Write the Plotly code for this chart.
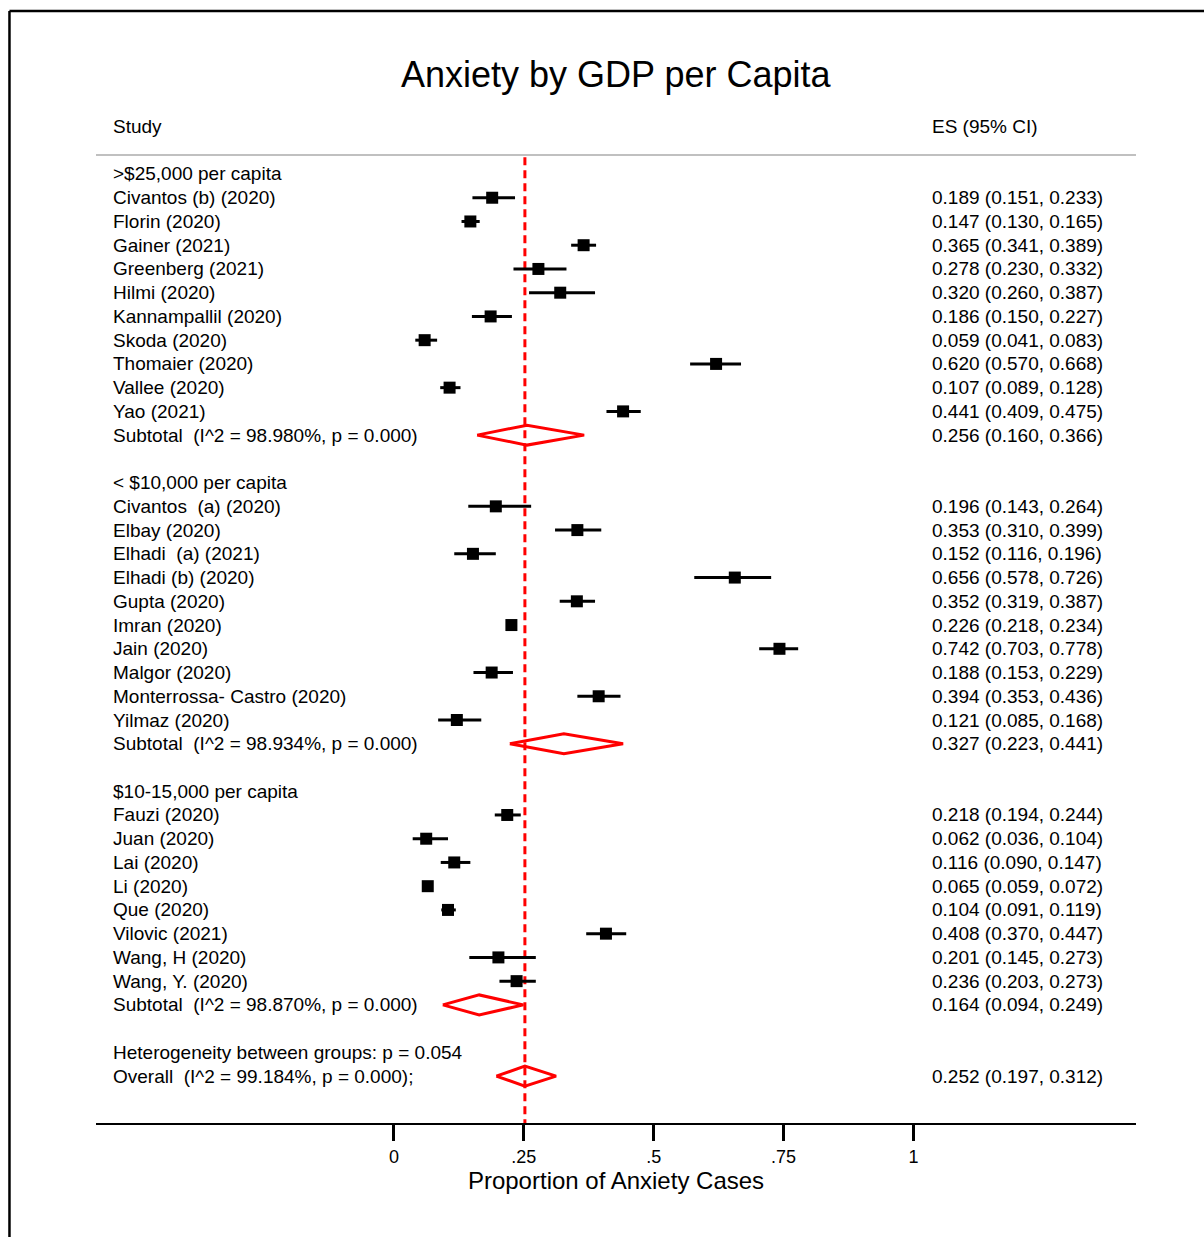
import plotly.graph_objects as go

# ---- data -----------------------------------------------------------------
group_names = [">$25,000 per capita", "<\u00a0$10,000 per capita", "$10-15,000 per capita"]

g1_studies = ["Civantos (b) (2020)", "Florin (2020)", "Gainer (2021)", "Greenberg (2021)",
              "Hilmi (2020)", "Kannampallil (2020)", "Skoda (2020)", "Thomaier (2020)",
              "Vallee (2020)", "Yao (2021)"]
g1_es = [0.189, 0.147, 0.365, 0.278, 0.320, 0.186, 0.059, 0.620, 0.107, 0.441]
g1_lo = [0.151, 0.130, 0.341, 0.230, 0.260, 0.150, 0.041, 0.570, 0.089, 0.409]
g1_hi = [0.233, 0.165, 0.389, 0.332, 0.387, 0.227, 0.083, 0.668, 0.128, 0.475]

g2_studies = ["Civantos\u00a0 (a) (2020)", "Elbay (2020)", "Elhadi\u00a0 (a) (2021)", "Elhadi (b) (2020)",
              "Gupta (2020)", "Imran (2020)", "Jain (2020)", "Malgor (2020)",
              "Monterrossa- Castro (2020)", "Yilmaz (2020)"]
g2_es = [0.196, 0.353, 0.152, 0.656, 0.352, 0.226, 0.742, 0.188, 0.394, 0.121]
g2_lo = [0.143, 0.310, 0.116, 0.578, 0.319, 0.218, 0.703, 0.153, 0.353, 0.085]
g2_hi = [0.264, 0.399, 0.196, 0.726, 0.387, 0.234, 0.778, 0.229, 0.436, 0.168]

g3_studies = ["Fauzi (2020)", "Juan (2020)", "Lai (2020)", "Li (2020)", "Que (2020)",
              "Vilovic (2021)", "Wang, H (2020)", "Wang, Y. (2020)"]
g3_es = [0.218, 0.062, 0.116, 0.065, 0.104, 0.408, 0.201, 0.236]
g3_lo = [0.194, 0.036, 0.090, 0.059, 0.091, 0.370, 0.145, 0.203]
g3_hi = [0.244, 0.104, 0.147, 0.072, 0.119, 0.447, 0.273, 0.273]

subtotal_i2 = ["98.980%", "98.934%", "98.870%"]
subtotal_es = [0.256, 0.327, 0.164]
subtotal_lo = [0.160, 0.223, 0.094]
subtotal_hi = [0.366, 0.441, 0.249]

overall_i2 = "99.184%"
overall_es, overall_lo, overall_hi = 0.252, 0.197, 0.312
between_p = "0.054"

tick_vals = [0, 0.25, 0.5, 0.75, 1]
tick_text = ["0", ".25", ".5", ".75", "1"]

groups = [
    (g1_studies, g1_es, g1_lo, g1_hi),
    (g2_studies, g2_es, g2_lo, g2_hi),
    (g3_studies, g3_es, g3_lo, g3_hi),
]

# ---- layout constants -------------------------------------------------------
FONT = "Liberation Sans, Arial, Helvetica, sans-serif"
LABEL_X = -0.5447      # left text column
ES_X = 1.0318          # right "ES (95% CI)" column
DIAMOND_H = 0.42       # half-height of pooled-estimate diamonds (row units)

fig = go.Figure()
annotations = []


def label(x, y, text, size=19):
    annotations.append(dict(x=x, y=y, xref="x", yref="y", text=text, showarrow=False,
                            xanchor="left", yanchor="middle",
                            font=dict(family=FONT, size=size, color="black")))


def fmt(es, lo, hi):
    return f"{es:.3f} ({lo:.3f}, {hi:.3f})"


def diamond(es, lo, hi, row):
    fig.add_trace(go.Scatter(
        x=[lo, es, hi, es, lo], y=[row, row - DIAMOND_H, row, row + DIAMOND_H, row],
        mode="lines", line=dict(color="#ff0000", width=3), hoverinfo="skip",
        showlegend=False))


row = 0
for gi, (studies, es, lo, hi) in enumerate(groups):
    label(LABEL_X, row, group_names[gi])
    row += 1
    rows = []
    for name, e, l, h in zip(studies, es, lo, hi):
        label(LABEL_X, row, name)
        label(ES_X, row, fmt(e, l, h))
        fig.add_trace(go.Scatter(x=[l, h], y=[row, row], mode="lines",
                                 line=dict(color="black", width=3),
                                 hoverinfo="skip", showlegend=False))
        rows.append(row)
        row += 1
    fig.add_trace(go.Scatter(x=es, y=rows, mode="markers",
                             marker=dict(symbol="square", size=12, color="black"),
                             showlegend=False))
    label(LABEL_X, row, f"Subtotal\u00a0 (I^2 = {subtotal_i2[gi]}, p = 0.000)")
    label(ES_X, row, fmt(subtotal_es[gi], subtotal_lo[gi], subtotal_hi[gi]))
    diamond(subtotal_es[gi], subtotal_lo[gi], subtotal_hi[gi], row)
    row += 2

label(LABEL_X, row, f"Heterogeneity between groups: p = {between_p}")
row += 1
label(LABEL_X, row, f"Overall\u00a0 (I^2 = {overall_i2}, p = 0.000);")
label(ES_X, row, fmt(overall_es, overall_lo, overall_hi))
diamond(overall_es, overall_lo, overall_hi, row)

# column headers and title
label(LABEL_X, -2.0, "Study")
label(ES_X, -2.0, "ES (95% CI)")
annotations.append(dict(x=0.5, xref="paper", y=-4.2, yref="y", text="Anxiety by GDP per Capita",
                        showarrow=False, xanchor="center", yanchor="middle",
                        font=dict(family=FONT, size=36, color="black")))

shapes = [
    # header rule
    dict(type="line", xref="paper", x0=0, x1=1, yref="y", y0=-0.80, y1=-0.80,
         line=dict(color="#c0c0c0", width=2)),
    # overall-estimate reference line
    dict(type="line", xref="x", x0=overall_es, x1=overall_es, yref="y", y0=-0.70,
         y1=39.975, line=dict(color="#ff0000", width=3, dash="8px,5px"), layer="below"),
    # outer frame (top and left edges)
    dict(type="line", xref="paper", x0=-0.0832, x1=1.07, yref="paper", y0=0.9902, y1=0.9902,
         line=dict(color="black", width=2.5)),
    dict(type="line", xref="paper", x0=-0.0832, x1=-0.0832, yref="paper", y0=0.9902, y1=-0.11,
         line=dict(color="black", width=2.5)),
]

fig.update_layout(
    width=1204, height=1237,
    margin=dict(l=96, r=68, t=0, b=114),
    paper_bgcolor="white", plot_bgcolor="white",
    showlegend=False,
    annotations=annotations,
    shapes=shapes,
    font=dict(family=FONT, color="black"),
    xaxis=dict(range=[-0.5736, 1.4283], tickvals=tick_vals, ticktext=tick_text,
               ticks="outside", ticklen=16, tickwidth=3, tickcolor="black",
               showline=True, linecolor="black", linewidth=2, showgrid=False,
               zeroline=False, fixedrange=True,
               tickfont=dict(family=FONT, size=18, color="black"),
               title=dict(text="Proportion of Anxiety Cases", standoff=4,
                          font=dict(family=FONT, size=24, color="black"))),
    yaxis=dict(range=[39.975, -7.329], visible=False, showgrid=False, zeroline=False,
               fixedrange=True),
)

fig.write_html("out.html")
